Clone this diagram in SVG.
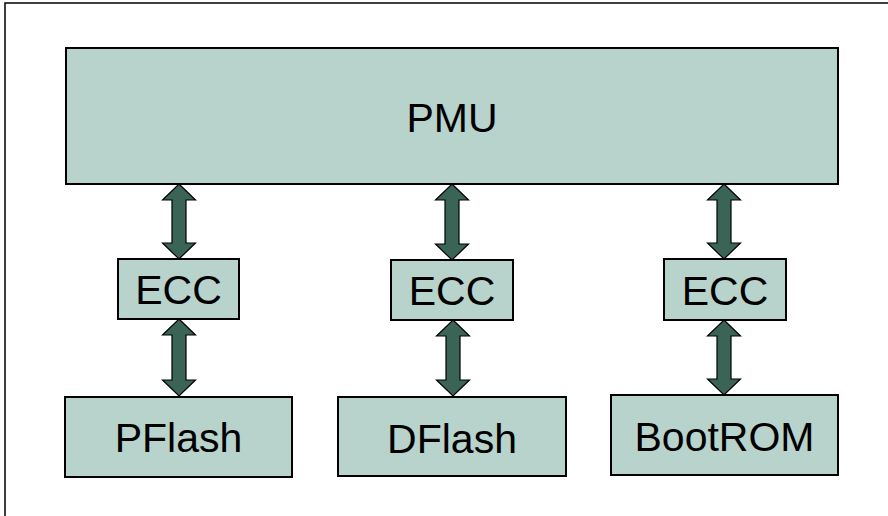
<svg xmlns="http://www.w3.org/2000/svg" width="888" height="516" viewBox="0 0 888 516">
<style>
.box{fill:#B8D3CB;stroke:#000;stroke-width:2}
.arr{fill:#3A6456;stroke:#000;stroke-width:1.2;stroke-linejoin:miter}
text{font-family:"Liberation Sans",Arial,sans-serif;font-size:41px;fill:#000;text-anchor:middle}
</style>
<rect x="0" y="0" width="888" height="516" fill="#fff"/>
<rect x="5" y="3" width="900" height="600" fill="none" stroke="#000" stroke-width="1.5"/>
<g id="connectors">
<polygon class="arr" points="179,184 195.5,200 186,200 186,243 195.5,243 179,259 162.5,243 172,243 172,200 162.5,200"/>
<polygon class="arr" points="452,184 468.5,200 459,200 459,244 468.5,244 452,260 435.5,244 445,244 445,200 435.5,200"/>
<polygon class="arr" points="724,184 740.5,200 731,200 731,243 740.5,243 724,259 707.5,243 717,243 717,200 707.5,200"/>
<polygon class="arr" points="179,319 195.5,335 186,335 186,380 195.5,380 179,396 162.5,380 172,380 172,335 162.5,335"/>
<polygon class="arr" points="453,320 469.5,336 460,336 460,380 469.5,380 453,396 436.5,380 446,380 446,336 436.5,336"/>
<polygon class="arr" points="724,320 740.5,336 731,336 731,379 740.5,379 724,395 707.5,379 717,379 717,336 707.5,336"/>
</g>
<g id="pmu"><rect class="box" x="66" y="48" width="772" height="136"/><text x="452" y="132">PMU</text></g>
<g id="ecc1"><rect class="box" x="118" y="259" width="121" height="60"/><text x="178.5" y="304">ECC</text></g>
<g id="ecc2"><rect class="box" x="391" y="260" width="122" height="60"/><text x="452" y="305">ECC</text></g>
<g id="ecc3"><rect class="box" x="664" y="259" width="122" height="61"/><text x="725" y="305">ECC</text></g>
<g id="pflash"><rect class="box" x="65" y="397" width="227" height="80"/><text x="178.5" y="452">PFlash</text></g>
<g id="dflash"><rect class="box" x="338" y="397" width="228" height="79"/><text x="452" y="453">DFlash</text></g>
<g id="bootrom"><rect class="box" x="611" y="395" width="227" height="80"/><text x="724.5" y="451">BootROM</text></g>
</svg>
